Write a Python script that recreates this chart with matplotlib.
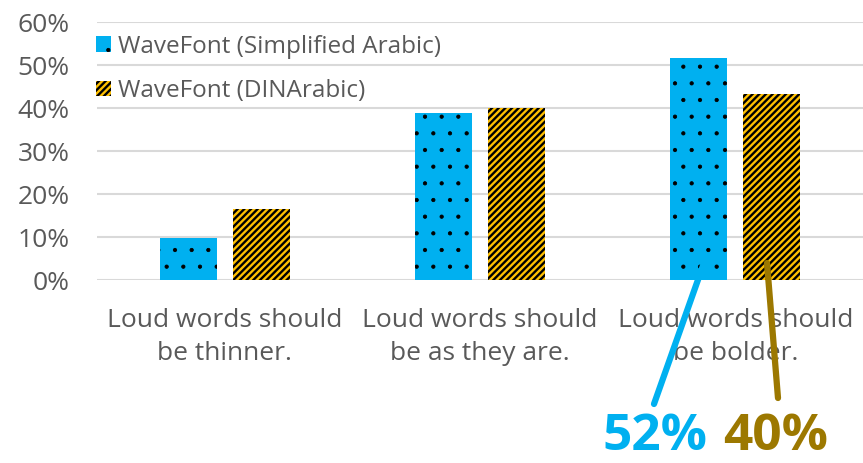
import matplotlib
matplotlib.use("Agg")
import matplotlib.pyplot as plt
import numpy as np
from matplotlib.patches import Patch
from matplotlib.ticker import PercentFormatter

plt.rcParams['font.family'] = ['Open Sans', 'DejaVu Sans']

categories = ["Loud words should\nbe thinner.", "Loud words should\nbe as they are.", "Loud words should\nbe bolder."]
series_names = ["WaveFont (Simplified Arabic)", "WaveFont (DINArabic)"]
simplified = [0.097, 0.388, 0.516]
dinarabic = [0.165, 0.40, 0.432]
yticks = [0, 0.1, 0.2, 0.3, 0.4, 0.5, 0.6]
callouts = ["52%", "40%"]

blue = "#00B0F0"
gold = "#FFC000"
callout_gold = "#9C7800"
gray = "#595959"

DOT_LW = 0.6
LINE_LW = 1.7
DOT_HATCH = '.'
LINE_HATCH = '/////'


def set_hlw(patches, lw):
    for p in patches:
        if hasattr(p, "set_hatch_linewidth"):
            p.set_hatch_linewidth(lw)


fig = plt.figure(figsize=(8.63, 4.63), dpi=100)
ax = fig.add_axes([0.1124, 0.395, 0.8876, 0.557])

x = np.arange(len(categories))
w = 0.223
off = 0.143
with plt.rc_context({'hatch.linewidth': DOT_LW}):
    b1 = ax.bar(x - off, simplified, w, color=blue, hatch=DOT_HATCH, edgecolor='black', linewidth=0)
with plt.rc_context({'hatch.linewidth': LINE_LW}):
    b2 = ax.bar(x + off, dinarabic, w, color=gold, hatch=LINE_HATCH, edgecolor='black', linewidth=0)
set_hlw(b1, DOT_LW)
set_hlw(b2, LINE_LW)

ax.set_xlim(-0.5, 2.5)
ax.set_ylim(0, 0.6)
ax.set_yticks(yticks)
ax.yaxis.set_major_formatter(PercentFormatter(1.0, decimals=0))
ax.set_xticks(x)
ax.set_xticklabels(categories, linespacing=1.45)
ax.tick_params(axis='both', length=0, colors=gray, labelsize=19)
ax.tick_params(axis='y', pad=19.5)
ax.tick_params(axis='x', pad=20)
ax.grid(axis='y', color='#D9D9D9', linewidth=1.5)
ax.set_axisbelow(True)
for s in ax.spines.values():
    s.set_visible(False)

with plt.rc_context({'hatch.linewidth': DOT_LW}):
    h1 = Patch(facecolor=blue, hatch=DOT_HATCH, edgecolor='black', linewidth=0)
with plt.rc_context({'hatch.linewidth': LINE_LW}):
    h2 = Patch(facecolor=gold, hatch=LINE_HATCH, edgecolor='black', linewidth=0)
leg = ax.legend([h1, h2], series_names, loc='upper left', bbox_to_anchor=(-0.014, 0.99),
                frameon=False, fontsize=17.5, handlelength=0.6, handleheight=0.6,
                handletextpad=0.3, labelspacing=0.85, borderaxespad=0)
for t in leg.get_texts():
    t.set_color(gray)
set_hlw([leg.legend_handles[0]], DOT_LW)
set_hlw([leg.legend_handles[1]], LINE_LW)

# callouts
text_pos = [(655, 437), (776, 437)]
line_top = [(705, 260), (767, 263)]
line_bottom = [(654, 404), (778, 398)]
colors = [blue, callout_gold]
H = 463
for label, tp, lt, lb, c in zip(callouts, text_pos, line_top, line_bottom, colors):
    ax.annotate("", xy=(lt[0], H - lt[1]), xycoords='figure pixels',
                xytext=(lb[0], H - lb[1]), textcoords='figure pixels',
                arrowprops=dict(arrowstyle='-', color=c, lw=4.5, shrinkA=0, shrinkB=0))
    fig.text(tp[0] / 863, 1 - tp[1] / H, label, color=c, fontsize=37, fontweight='bold',
             ha='center', va='center')

fig.savefig("out.png", dpi=100)
